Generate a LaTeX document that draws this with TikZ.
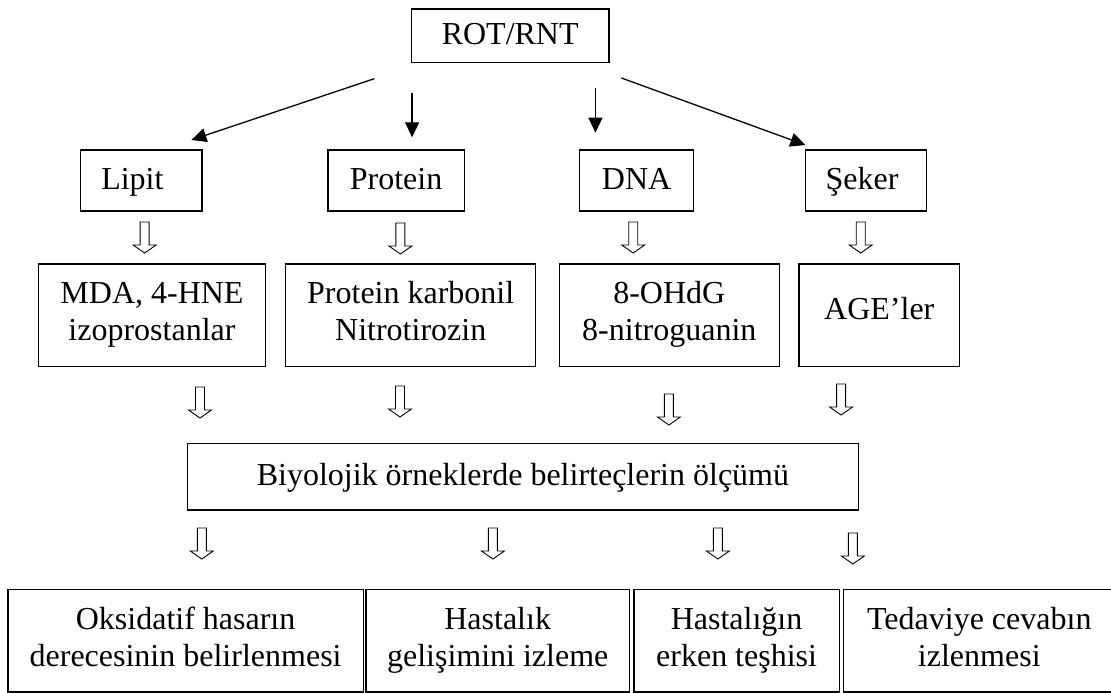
\documentclass[tikz,border=0pt]{standalone}
\usepackage{fontspec}
\setmainfont{Liberation Serif}
\usepackage{tikz}
\usetikzlibrary{arrows.meta,positioning}

\newcommand\boxstrut{\rule[-8pt]{0pt}{33pt}}
\tikzset{
  box/.style={draw, line width=1.3pt, rectangle, inner sep=0pt, align=center,
    font=\fontsize{32}{37}\selectfont,
    execute at begin node=\boxstrut, execute at end node=\boxstrut},
  hollow/.pic={\draw[line width=0.9pt] (-4.5,0) -- (-4.5,23) -- (-11.5,23) -- (0,31)
    -- (11.5,23) -- (4.5,23) -- (4.5,0) -- cycle;}
}

\begin{document}
\begin{tikzpicture}[x=1pt,y=-1pt,on grid,>={Triangle[length=15pt,width=14pt]},
    line width=1.3pt]
   \useasboundingbox (0,0) rectangle (1111,693);
   % top row
   \node[box,minimum width=197.5pt,minimum height=53.3pt] (rot) at (510.2,35.7) {ROT/RNT};
   \node[box,minimum width=121.4pt,minimum height=61pt] (lipit) [below left=144.8pt and 368.8pt of rot] {Lipit\hspace*{18pt}};
   \node[box,minimum width=136.4pt,minimum height=61pt] (protein) [right=254.7pt of lipit] {Protein};
   \node[box,minimum width=114pt,minimum height=61pt] (dna) [right=240.5pt of protein] {DNA};
   \node[box,minimum width=121.4pt,minimum height=61pt] (seker) [right=229.5pt of dna] {Şeker\hspace*{8pt}};
   % markers
   \node[box,minimum width=227.5pt,minimum height=102.7pt] (mda) [below right=134.8pt and 10.6pt of lipit] {MDA, 4-HNE\\izoprostanlar};
   \node[box,minimum width=250pt,minimum height=102.7pt] (karbonil) [right=258.7pt of mda] {Protein karbonil\\Nitrotirozin};
   \node[box,minimum width=220pt,minimum height=102.7pt] (ohdg) [right=258.6pt of karbonil] {8-OHdG\\8-nitroguanin};
   \node[box,minimum width=160.7pt,minimum height=102.7pt] (age) [right=210pt of ohdg] {AGE’ler\rule[-17pt]{0pt}{0pt}};
   % measurement
   \node[box,minimum width=670.7pt,minimum height=66.7pt] (olcum) [below right=161.4pt and 112.2pt of karbonil] {Biyolojik örneklerde belirteçlerin ölçümü};
   % uses
   \node[box,minimum width=355.2pt,minimum height=102.5pt] (derece) [below left=164.1pt and 337.3pt of olcum] {Oksidatif hasarın\\derecesinin belirlenmesi};
   \node[box,minimum width=263.2pt,minimum height=102.5pt] (gelisim) [right=312.1pt of derece] {Hastalık\\gelişimini izleme};
   \node[box,minimum width=205.4pt,minimum height=102.5pt] (teshis) [right=238.9pt of gelisim] {Hastalığın\\erken teşhisi};
   \node[box,minimum width=271.4pt,minimum height=102.5pt] (tedavi) [right=242.7pt of teshis] {Tedaviye cevabın\\izlenmesi};

   \coordinate (l0) at (374.3,78.7);  \coordinate (l1) at (191.4,140);
   \coordinate (p0) at (412.1,92.7);  \coordinate (p1) at (412.1,137.3);
   \coordinate (d0) at (595.4,87.7);  \coordinate (d1) at (595.4,132.7);
   \coordinate (s0) at (621.4,78);    \coordinate (s1) at (805.4,145);
    \path[->]
    (l0) edge (l1)
    (p0) edge (p1)
    (d0) edge (d1)
    (s0) edge (s1);

   \pic at (144.6,222) {hollow};
   \pic at (400.4,223) {hollow};
   \pic at (633.2,222) {hollow};
   \pic at (860.7,222) {hollow};
   \pic at (200,387) {hollow};
   \pic at (400,386) {hollow};
   \pic at (668.9,394) {hollow};
   \pic at (841.1,384) {hollow};
   \pic at (201.8,528) {hollow};
   \pic at (492.9,528) {hollow};
   \pic at (717.9,528) {hollow};
   \pic at (852.9,533) {hollow};
\end{tikzpicture}
\end{document}
